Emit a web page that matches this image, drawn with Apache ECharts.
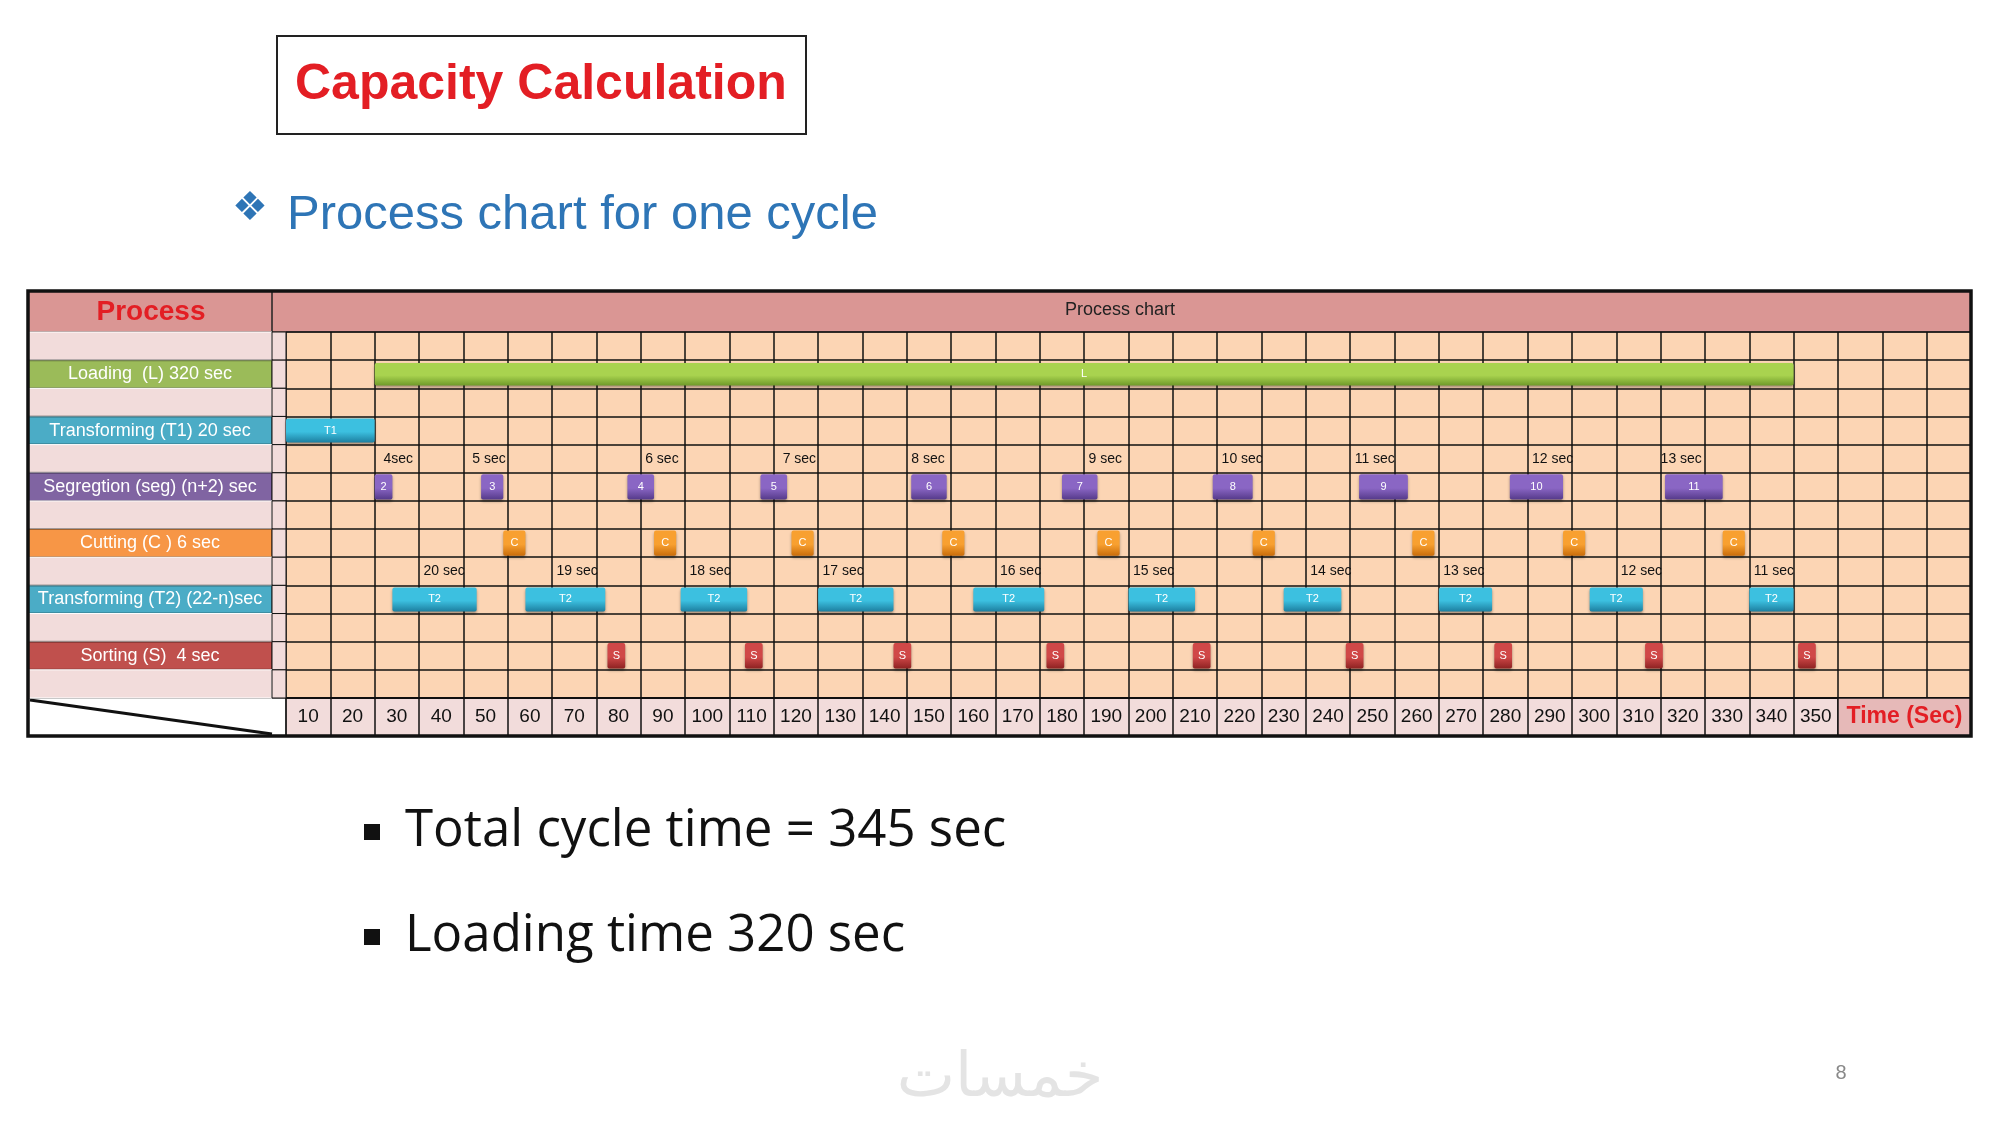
<!DOCTYPE html>
<html>
<head>
<meta charset="UTF-8">
<title>Capacity Calculation</title>
<script src="https://cdn.jsdelivr.net/npm/echarts@6/dist/echarts.min.js"></script>
<style>html,body{margin:0;padding:0;background:#fff;}#main{width:2000px;height:1125px;}</style>
</head>
<body>
<div id="main"></div>
<script>
// row labels (left column), row index 0..12
var rowLabels = ['', 'Loading  (L) 320 sec', '', 'Transforming (T1) 20 sec', '', 'Segregtion (seg) (n+2) sec', '', 'Cutting (C ) 6 sec', '', 'Transforming (T2) (22-n)sec', '', 'Sorting (S)  4 sec', ''];
var rowColors = ['#f2dcdb', '#9bbb59', '#f2dcdb', '#4bacc6', '#f2dcdb', '#8064a2', '#f2dcdb', '#f79646', '#f2dcdb', '#4bacc6', '#f2dcdb', '#c0504d', '#f2dcdb'];
var timeTicks = ['10','20','30','40','50','60','70','80','90','100','110','120','130','140','150','160','170','180','190','200','210','220','230','240','250','260','270','280','290','300','310','320','330','340','350'];

// bars: [start, end, label]
var loading = [[20, 340, 'L']];
var t1 = [[0, 20, 'T1']];
var seg = [[20, 24, '2'], [44, 49, '3'], [77, 83, '4'], [107, 113, '5'], [141, 149, '6'], [175, 183, '7'], [209, 218, '8'], [242, 253, '9'], [276, 288, '10'], [311, 324, '11']];
var cutting = [[49, 54, 'C'], [83, 88, 'C'], [114, 119, 'C'], [148, 153, 'C'], [183, 188, 'C'], [218, 223, 'C'], [254, 259, 'C'], [288, 293, 'C'], [324, 329, 'C']];
var t2 = [[24, 43, 'T2'], [54, 72, 'T2'], [89, 104, 'T2'], [120, 137, 'T2'], [155, 171, 'T2'], [190, 205, 'T2'], [225, 238, 'T2'], [260, 272, 'T2'], [294, 306, 'T2'], [330, 340, 'T2']];
var sorting = [[72.5, 76.5, 'S'], [103.5, 107.5, 'S'], [137, 141, 'S'], [171.5, 175.5, 'S'], [204.5, 208.5, 'S'], [239, 243, 'S'], [272.5, 276.5, 'S'], [306.5, 310.5, 'S'], [341, 345, 'S']];
// annotations: [x, text]
var segNotes = [[22, '4sec'], [42, '5 sec'], [81, '6 sec'], [112, '7 sec'], [141, '8 sec'], [181, '9 sec'], [211, '10 sec'], [241, '11 sec'], [281, '12 sec'], [310, '13 sec']];
var t2Notes = [[31, '20 sec'], [61, '19 sec'], [91, '18 sec'], [121, '17 sec'], [161, '16 sec'], [191, '15 sec'], [231, '14 sec'], [261, '13 sec'], [301, '12 sec'], [331, '11 sec']];

var myChart = echarts.init(document.getElementById('main'));

function barSeries(name, data, row, color, dark, frac) {
    return {
        name: name, type: 'custom', xAxisIndex: 0, yAxisIndex: 0,
        data: data.map(function (d) { return [d[0], d[1], row, d[2]]; }),
        renderItem: function (params, api) {
            var p0 = api.coord([api.value(0), api.value(2)]);
            var p1 = api.coord([api.value(1), api.value(2)]);
            var h = api.size([0, 1])[1];
            var bh = h * frac;
            var y = p0[1] + (h - bh) / 2;
            return {
                type: 'rect',
                shape: { x: p0[0], y: y, width: p1[0] - p0[0], height: bh, r: 2 },
                style: {
                    fill: new echarts.graphic.LinearGradient(0, 0, 0, 1, [
                        { offset: 0, color: color }, { offset: 0.55, color: color }, { offset: 1, color: dark }
                    ]),
                    shadowBlur: 3, shadowColor: 'rgba(0,0,0,0.35)', shadowOffsetY: 2,
                    text: api.value(3), textFill: '#fff', fontSize: 11, fontFamily: 'Liberation Sans Narrow, Liberation Sans'
                }
            };
        }
    };
}
function noteSeries(name, data, row) {
    return {
        name: name, type: 'custom', xAxisIndex: 0, yAxisIndex: 0,
        data: data.map(function (d) { return [d[0], row, d[1]]; }),
        renderItem: function (params, api) {
            var p = api.coord([api.value(0), api.value(1) + 0.5]);
            return {
                type: 'text',
                style: { x: p[0], y: p[1], text: api.value(2), fill: '#111', fontSize: 14, fontFamily: 'Liberation Sans Narrow, Liberation Sans', verticalAlign: 'middle', align: 'left' }
            };
        }
    };
}

var option = {
    backgroundColor: '#ffffff',
    animation: false,
    grid: [
        { left: 286, width: 1685, top: 332, height: 366, show: true, backgroundColor: '#fcd5b4', borderWidth: 0 },
        { left: 28, width: 258, top: 332, height: 366, show: false },
        { left: 286, width: 1685, top: 698, height: 38, show: true, backgroundColor: '#f2dcdb', borderWidth: 0 }
    ],
    xAxis: [
        { gridIndex: 0, type: 'value', min: 0, max: 380, interval: 10, axisLabel: { show: false }, axisTick: { show: false }, axisLine: { show: false }, splitLine: { lineStyle: { color: '#111', width: 1.5 } } },
        { gridIndex: 1, type: 'value', min: 0, max: 258, show: false },
        { gridIndex: 2, type: 'value', min: 0, max: 380, interval: 10, axisLabel: { show: false }, axisTick: { show: false }, axisLine: { show: false }, splitLine: { lineStyle: { color: '#111', width: 1.5 } } }
    ],
    yAxis: [
        { gridIndex: 0, type: 'value', min: 0, max: 13, interval: 1, inverse: true, axisLabel: { show: false }, axisTick: { show: false }, axisLine: { show: false }, splitLine: { lineStyle: { color: '#111', width: 1.5 } } },
        { gridIndex: 1, type: 'value', min: 0, max: 13, interval: 1, inverse: true, axisLabel: { show: false }, axisTick: { show: false }, axisLine: { show: false }, splitLine: { show: false } },
        { gridIndex: 2, type: 'value', min: 0, max: 1, show: false }
    ],
    graphic: [
        { type: 'rect', shape: { x: 277, y: 36, width: 529, height: 98 }, style: { fill: '#fff', stroke: '#222', lineWidth: 2 } },
        { type: 'text', left: 295, top: 60, style: { text: 'Capacity Calculation', fill: '#e31e24', fontSize: 50, fontWeight: 'bold', fontFamily: 'Liberation Sans' } },
        { type: 'text', left: 232, top: 190, style: { text: '\u2756', fill: '#2e75b6', fontSize: 40, fontFamily: 'DejaVu Sans' } },
        { type: 'text', left: 287, top: 191, style: { text: 'Process chart for one cycle', fill: '#2e75b6', fontSize: 49, fontFamily: 'Liberation Sans' } },
        // header row
        { type: 'rect', shape: { x: 28, y: 291, width: 1943, height: 41 }, style: { fill: '#da9694', stroke: '#222', lineWidth: 1 } },
        { type: 'line', shape: { x1: 272, y1: 291, x2: 272, y2: 332 }, style: { stroke: '#222', lineWidth: 1.5 } },
        { type: 'text', x: 151, y: 312, style: { text: 'Process', fill: '#e31e24', fontSize: 28, fontWeight: 'bold', fontFamily: 'Liberation Sans Narrow, Liberation Sans', align: 'center', verticalAlign: 'middle' } },
        { type: 'text', x: 1120, y: 310, style: { text: 'Process chart', fill: '#222', fontSize: 18, fontFamily: 'Liberation Sans Narrow, Liberation Sans', align: 'center', verticalAlign: 'middle' } },
        // bottom-left cell
        { type: 'rect', shape: { x: 28, y: 698, width: 258, height: 38 }, style: { fill: '#fff', stroke: '#222', lineWidth: 1 } },
        { type: 'line', shape: { x1: 30, y1: 700, x2: 272, y2: 734 }, style: { stroke: '#111', lineWidth: 3 } },
        { type: 'line', shape: { x1: 286, y1: 698, x2: 1971, y2: 698 }, style: { stroke: '#111', lineWidth: 2 } },
        // outer frame
        { type: 'rect', z: 100, shape: { x: 28, y: 291, width: 1943, height: 445 }, style: { fill: 'none', stroke: '#111', lineWidth: 3.5 } },
        // bullets
        { type: 'rect', shape: { x: 364, y: 824, width: 16, height: 16 }, style: { fill: '#111' } },
        { type: 'text', left: 405, top: 806, style: { text: 'Total cycle time = 345 sec', fill: '#111', fontSize: 51, fontFamily: 'Open Sans' } },
        { type: 'rect', shape: { x: 364, y: 929, width: 16, height: 16 }, style: { fill: '#111' } },
        { type: 'text', left: 405, top: 911, style: { text: 'Loading time 320 sec', fill: '#111', fontSize: 51, fontFamily: 'Open Sans' } },
        { type: 'text', x: 1000, y: 1080, style: { text: '\u062e\u0645\u0633\u0627\u062a', fill: '#e4e4e4', fontSize: 62, fontFamily: 'DejaVu Sans', align: 'center', verticalAlign: 'middle' } },
        { type: 'text', x: 1841, y: 1073, style: { text: '8', fill: '#888', fontSize: 20, fontFamily: 'Liberation Sans', align: 'center', verticalAlign: 'middle' } }
    ],
    series: [
        {
            name: 'rows', type: 'custom', xAxisIndex: 1, yAxisIndex: 1,
            data: rowLabels.map(function (l, i) { return [i, l, rowColors[i]]; }),
            renderItem: function (params, api) {
                var r = api.value(0);
                var p0 = api.coord([0, r]);
                var p1 = api.coord([244, r + 1]);
                var p2 = api.coord([258, r + 1]);
                var lbl = rowLabels[r], col = rowColors[r];
                return {
                    type: 'group', children: [
                        { type: 'rect', shape: { x: p0[0], y: p0[1], width: p1[0] - p0[0], height: p1[1] - p0[1] },
                          style: { fill: col, stroke: lbl ? 'rgba(0,0,0,0.35)' : '#fff', lineWidth: lbl ? 2 : 1,
                                   text: lbl, textFill: '#fff', fontSize: 18, fontFamily: 'Liberation Sans Narrow, Liberation Sans' } },
                        { type: 'rect', shape: { x: p1[0], y: p0[1], width: p2[0] - p1[0], height: p1[1] - p0[1] },
                          style: { fill: '#f2dcdb', stroke: '#111', lineWidth: 1 } }
                    ]
                };
            }
        },
        barSeries('Loading', loading, 1, '#a9d34f', '#6f9a2a', 0.8),
        barSeries('T1', t1, 3, '#3cc0e0', '#1d7fa0', 0.85),
        barSeries('Segregation', seg, 5, '#8a66c4', '#553a8a', 0.9),
        barSeries('Cutting', cutting, 7, '#f8a030', '#c96c0a', 0.9),
        barSeries('T2', t2, 9, '#3cc0e0', '#1d7fa0', 0.85),
        barSeries('Sorting', sorting, 11, '#d04848', '#8e2222', 0.9),
        noteSeries('segNotes', segNotes, 4),
        noteSeries('t2Notes', t2Notes, 8),
        {
            name: 'ticks', type: 'custom', xAxisIndex: 2, yAxisIndex: 2,
            data: timeTicks.map(function (t, i) { return [i * 10 + 5, t]; }),
            renderItem: function (params, api) {
                var p = api.coord([api.value(0), 0.5]);
                return { type: 'text', style: { x: p[0], y: p[1], text: api.value(1), fill: '#111', fontSize: 19, fontFamily: 'Liberation Sans Narrow, Liberation Sans', align: 'center', verticalAlign: 'middle' } };
            }
        },
        {
            name: 'timeCell', type: 'custom', xAxisIndex: 2, yAxisIndex: 2,
            data: [[350, 380, 'Time (Sec)']],
            renderItem: function (params, api) {
                var p0 = api.coord([api.value(0), 1]);
                var p1 = api.coord([api.value(1), 0]);
                return { type: 'rect', shape: { x: p0[0], y: p0[1], width: p1[0] - p0[0], height: p1[1] - p0[1] },
                         style: { fill: '#e6b9b8', stroke: '#111', lineWidth: 1.5, text: api.value(2), textFill: '#e31e24', fontSize: 23, fontWeight: 'bold', fontFamily: 'Liberation Sans Narrow, Liberation Sans' } };
            }
        }
    ]
};
myChart.setOption(option);
</script>
</body>
</html>
